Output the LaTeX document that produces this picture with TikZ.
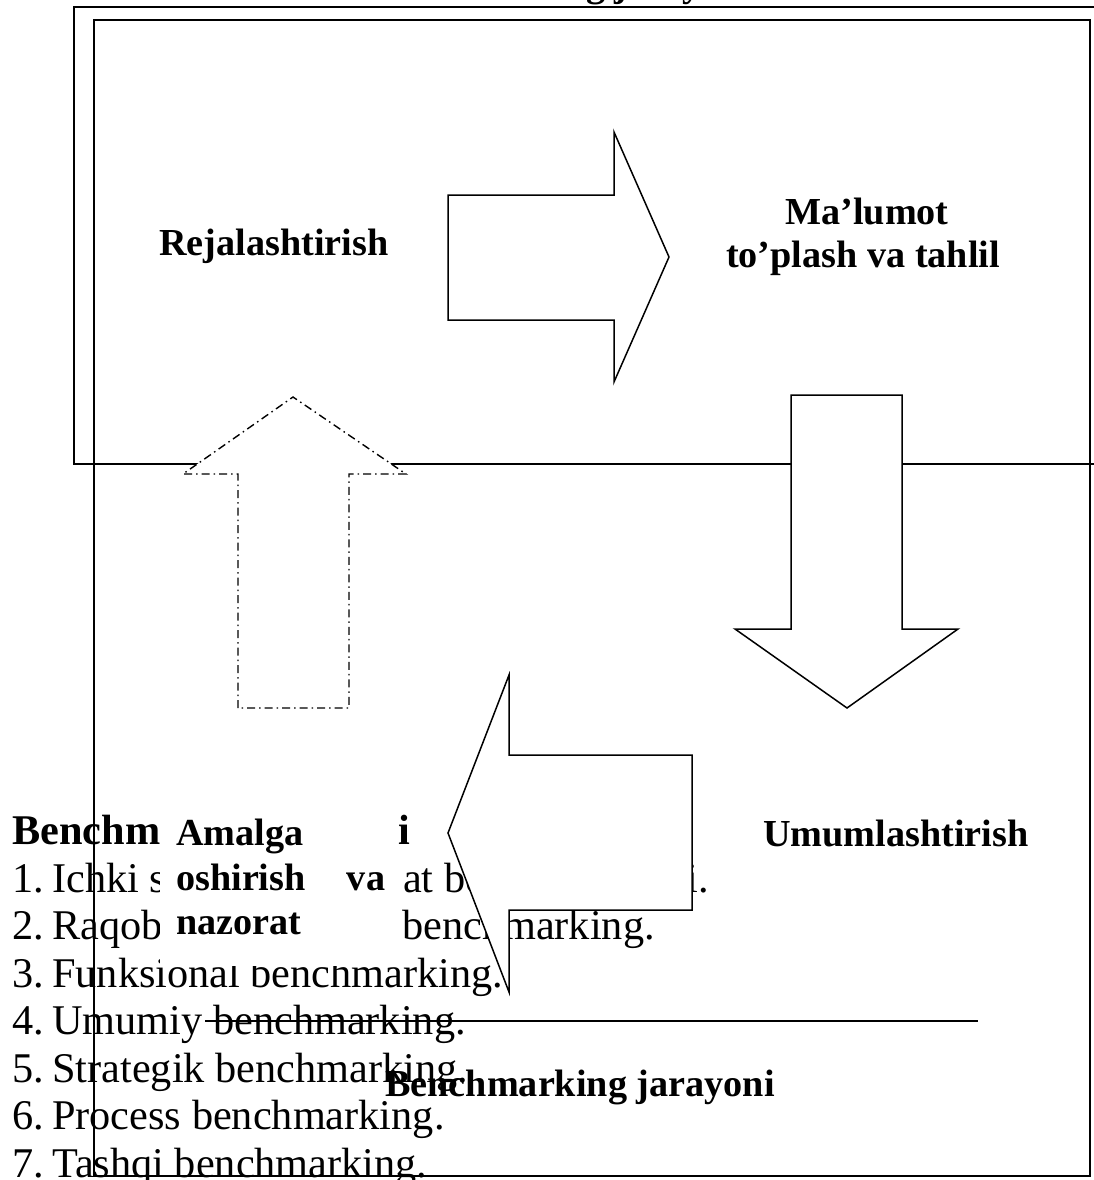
\documentclass[tikz,border=0pt]{standalone}
\usepackage{fontspec}
\setmainfont{Liberation Serif}
\begin{document}
\begin{tikzpicture}[x=1pt,y=-1pt,
  frame/.style={line width=1.8pt},
  blockarrow/.style={draw, line width=1.5pt, fill=white, line join=miter},
  dasharrow/.style={draw, line width=1.4pt, fill=white, dash pattern=on 8pt off 4pt on 1.5pt off 4pt},
  lst/.style={anchor=base west, inner sep=0pt, font=\fontsize{42.3}{48}\selectfont},
  lsthead/.style={anchor=base west, inner sep=0pt, font=\fontsize{42.3}{48}\selectfont\bfseries},
  lbl/.style={inner sep=0pt, font=\fontsize{38.2}{44}\selectfont\bfseries},
]
\path[use as bounding box] (0,0) rectangle (1094,1180);
\clip (0,0) rectangle (1094,1180);

% frames
\draw[frame] (1110,7) -- (74,7) -- (74,464) -- (1110,464);
\draw[frame] (94,20) rectangle (1090,1176);

% list of benchmarking types
\node[lsthead] (head) at (12,844) {Benchmarking turlari};
\node[lst] (n1) at (12,892) {1.};
\node[lst] (t1a) at (52,892) {Ichki sohaviy raqob};
\node[lst] (t1b) at (403,892) {at benchmarkingi.};
\node[lst] (n2) at (12,939.5) {2.};
\node[lst] (t2a) at (52,939.5) {Raqobatbardoshlik};
\node[lst] (t2b) at (402,939.5) {benchmarking.};
\node[lst] (n3) at (12,987) {3.};
\node[lst] (t3) at (52,987) {Funksional benchmarking.};
\node[lst] (n4) at (12,1034.5) {4.};
\node[lst] (t4) at (52,1034.5) {Umumiy benchmarking.};
\node[lst] (n5) at (12,1082) {5.};
\node[lst] (t5) at (52,1082) {Strategik benchmarking.};
\node[lst] (n6) at (12,1129.5) {6.};
\node[lst] (t6) at (52,1129.5) {Process benchmarking.};
\node[lst] (n7) at (12,1177) {7.};
\node[lst] (t7) at (52,1177) {Tashqi benchmarking.};

% horizontal rule
\coordinate (sl) at (205,1021);
\coordinate (sr) at (978,1021);
\draw[line width=1.6pt] (sl) -- (sr);

% titles and labels
\node[lbl, anchor=base west] (toptitle) at (363,-3) {Benchmarking jarayoni};
\node[lbl, anchor=base west] (bottitle) at (385,1096) {Benchmarking jarayoni};
\node[lbl, anchor=base west] (reja) at (159,255) {Rejalashtirish};
\node[lbl, anchor=base] (malum1) at (867,224) {Ma’lumot};
\node[lbl, anchor=base] (malum2) at (863,267) {to’plash va tahlil};
\node[lbl, anchor=base west] (umum) at (763,846) {Umumlashtirish};

% block arrows
\path[blockarrow] (448,195) -- (614,195) -- (614,132) -- (669,257) -- (614,382) -- (614,320) -- (448,320) -- cycle;
\path[blockarrow] (791,395) -- (902,395) -- (902,629) -- (958,629) -- (847,708) -- (735,629) -- (791,629) -- cycle;
\path[blockarrow] (692,755) -- (509,755) -- (509,675) -- (448,833) -- (509,992) -- (509,910) -- (692,910) -- cycle;
\path[dasharrow] (238,708) -- (238,474) -- (183,474) -- (293,397) -- (406,474) -- (349,474) -- (349,708) -- cycle;

% text box Amalga oshirish va nazorat
\node[fill=white, minimum width=238pt, minimum height=166pt, anchor=north west, inner sep=0pt] (amalgabox) at (160,800) {};
\node[lbl, anchor=base west] (am1) at (176,845) {Amalga};
\node[lbl, anchor=base west] (am2) at (176,890) {\makebox[209pt][s]{oshirish va}};
\node[lbl, anchor=base west] (am3) at (176,934) {nazorat};
\end{tikzpicture}
\end{document}
